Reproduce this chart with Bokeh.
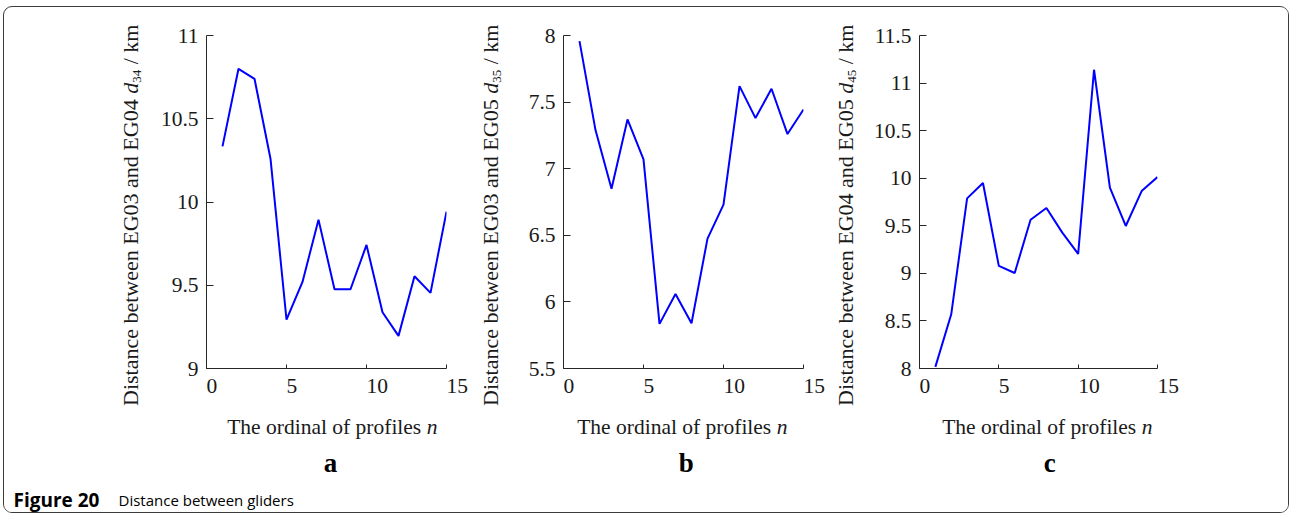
from bokeh.plotting import figure
from bokeh.models import Range1d, FixedTicker, Label, Row, Column, Div
from bokeh.embed import file_html
from bokeh.resources import INLINE

# ---------------- data ----------------
profiles = list(range(1, 16))
d34 = [10.334, 10.80, 10.74, 10.26, 9.294, 9.52, 9.894, 9.476, 9.476, 9.742,
       9.338, 9.196, 9.554, 9.454, 9.942]
d35 = [7.958, 7.29, 6.85, 7.37, 7.07, 5.835, 6.06, 5.84, 6.475, 6.73,
       7.62, 7.38, 7.60, 7.26, 7.445]
d45 = [8.017, 8.57, 9.788, 9.95, 9.078, 9.004, 9.564, 9.687, 9.428, 9.204,
       11.14, 9.90, 9.498, 9.865, 10.012]

x_ticks = [0, 5, 10, 15]
x_tick_labels = ["0", "5", "10", "15"]
y_ticks_a = [9, 9.5, 10, 10.5, 11]
y_tick_labels_a = ["9", "9.5", "10", "10.5", "11"]
y_ticks_b = [5.5, 6, 6.5, 7, 7.5, 8]
y_tick_labels_b = ["5.5", "6", "6.5", "7", "7.5", "8"]
y_ticks_c = [8, 8.5, 9, 9.5, 10, 10.5, 11, 11.5]
y_tick_labels_c = ["8", "8.5", "9", "9.5", "10", "10.5", "11", "11.5"]

glider_pairs = [("EG03", "EG04"), ("EG03", "EG05"), ("EG04", "EG05")]
subscripts = ["34", "35", "45"]
panel_letters = ["a", "b", "c"]
x_label = "The ordinal of profiles"
x_label_var = "n"
caption_head = "Figure 20"
caption_text = "Distance between gliders"

# ---------------- style / layout ----------------
SERIF = "Liberation Serif"
SANS = "Open Sans"
AXIS_COL = "#262626"
TXT_COL = "#1a1a1a"
LINE_COL = "#0000ff"

TIMES = {' ': 250, 'D': 722, 'i': 278, 's': 389, 't': 278, 'a': 444, 'n': 500,
         'c': 444, 'e': 444, 'b': 500, 'w': 722, 'E': 611, 'G': 722, '0': 500,
         '3': 500, '4': 500, '5': 500, 'd': 500, '/': 278, 'k': 500, 'm': 778,
         'T': 611, 'h': 500, 'o': 500, 'r': 333, 'l': 278, 'f': 333, 'p': 500}


def tw(s, size):
    return sum(TIMES[c] for c in s) * size / 1000.0


NBSP = "\u00a0"


def make_plot(ys, yticks, ylabels, left, right, frame_w):
    p = figure(x_range=Range1d(0, 15), y_range=Range1d(yticks[0], yticks[-1]),
               frame_width=frame_w, frame_height=333,
               min_border_left=left, min_border_right=right,
               min_border_top=28, min_border_bottom=41,
               toolbar_location=None, output_backend="svg",
               outline_line_color=None, background_fill_color="white",
               border_fill_color="white")
    p.line(profiles, ys, line_color=LINE_COL, line_width=2)
    p.grid.visible = False
    xa = p.xaxis[0]
    ya = p.yaxis[0]
    xa.ticker = FixedTicker(ticks=x_ticks)
    xa.major_label_overrides = {t: NBSP * (2 * len(l)) + l for t, l in zip(x_ticks, x_tick_labels)}
    ya.ticker = FixedTicker(ticks=yticks)
    ya.major_label_overrides = {t: l for t, l in zip(yticks, ylabels)}
    for ax, tin in ((xa, 4), (ya, 7)):
        ax.axis_line_color = AXIS_COL
        ax.axis_line_width = 1
        ax.major_tick_line_color = AXIS_COL
        ax.major_tick_in = tin
        ax.major_tick_out = 0
        ax.minor_tick_in = 0
        ax.minor_tick_out = 0
        ax.major_label_text_font = SERIF
        ax.major_label_text_font_size = "21.5px"
        ax.major_label_text_color = TXT_COL
    xa.major_label_standoff = 5
    ya.major_label_standoff = 8
    return p


OX, OY = 4, 7
ROW1_H = 402
BASE = 18.4  # baseline offset inside a 22px line box


def ylabel_div(x0, w, bx, k):
    g1, g2 = glider_pairs[k]
    html = (
        f'<div style="position:relative;width:{w}px;height:{ROW1_H}px;overflow:visible;">'
        f'<div style="position:absolute;left:{bx - x0 - BASE:.1f}px;top:{406 - OY}px;'
        'transform-origin:0 0;transform:rotate(-90deg);white-space:nowrap;'
        f"font-family:'{SERIF}';font-size:22px;line-height:22px;color:{TXT_COL};\">"
        f'Distance between {g1} and {g2} <i>d</i>'
        f'<span style="font-size:13px;position:relative;top:3px;">{subscripts[k]}</span>'
        ' / km</div></div>'
    )
    return Div(text=html, width=w, height=ROW1_H, margin=0,
               styles={"overflow": "visible"})


# y-label strips: (x0, width, baseline x)
strips = [(OX, 146, 138), (480, 30, 498), (835, 30, 853)]
plots = [
    make_plot(d34, y_ticks_a, y_tick_labels_a, 56, 34, 240),
    make_plot(d35, y_ticks_b, y_tick_labels_b, 53, 32, 240),
    make_plot(d45, y_ticks_c, y_tick_labels_c, 54, 131, 238),
]

row1_children = []
for k, (x0, w, bx) in enumerate(strips):
    row1_children += [ylabel_div(x0, w, bx, k), plots[k]]

row1 = Row(children=row1_children, spacing=0)

# bottom strip: x-axis titles, panel letters, caption
bottom = figure(x_range=Range1d(OX, OX + 1284), y_range=Range1d(OY + ROW1_H + 103, OY + ROW1_H),
                width=1284, height=103, min_border=0, x_axis_type=None, y_axis_type=None,
                toolbar_location=None, output_backend="svg",
                outline_line_color=None, background_fill_color="white",
                border_fill_color="white")
xlabel_left = [226.7, 576.7, 941.7]
letter_center = [330.0, 685.8, 1049.2]
for k in range(3):
    xl = xlabel_left[k]
    bottom.add_layout(Label(x=xl, y=426, text=x_label, text_font=SERIF,
                            text_font_size="21.5px", text_color=TXT_COL,
                            text_align="left", text_baseline="alphabetic"))
    bottom.add_layout(Label(x=xl + tw(x_label + " ", 21.5), y=426, text=x_label_var,
                            text_font=SERIF, text_font_size="21.5px",
                            text_font_style="italic", text_color=TXT_COL,
                            text_align="left", text_baseline="alphabetic"))
    bottom.add_layout(Label(x=letter_center[k], y=462, text=panel_letters[k],
                            text_font=SERIF, text_font_size="27px",
                            text_font_style="bold", text_color="black",
                            text_align="center", text_baseline="alphabetic"))

bottom.add_layout(Label(x=13, y=499, text=caption_head, text_font=SANS,
                        text_font_size="19px", text_font_style="bold",
                        text_color="black", text_align="left",
                        text_baseline="alphabetic"))
bottom.add_layout(Label(x=118, y=499, text=caption_text, text_font=SANS,
                        text_font_size="15px", text_color="black",
                        text_align="left", text_baseline="alphabetic"))

layout = Column(children=[row1, bottom], spacing=0, margin=(6, 0, 0, 3),
                styles={"border": "1px solid #3c3c3c", "border-radius": "9px",
                        "overflow": "hidden"})

open("out.html", "w").write(file_html(layout, INLINE))
